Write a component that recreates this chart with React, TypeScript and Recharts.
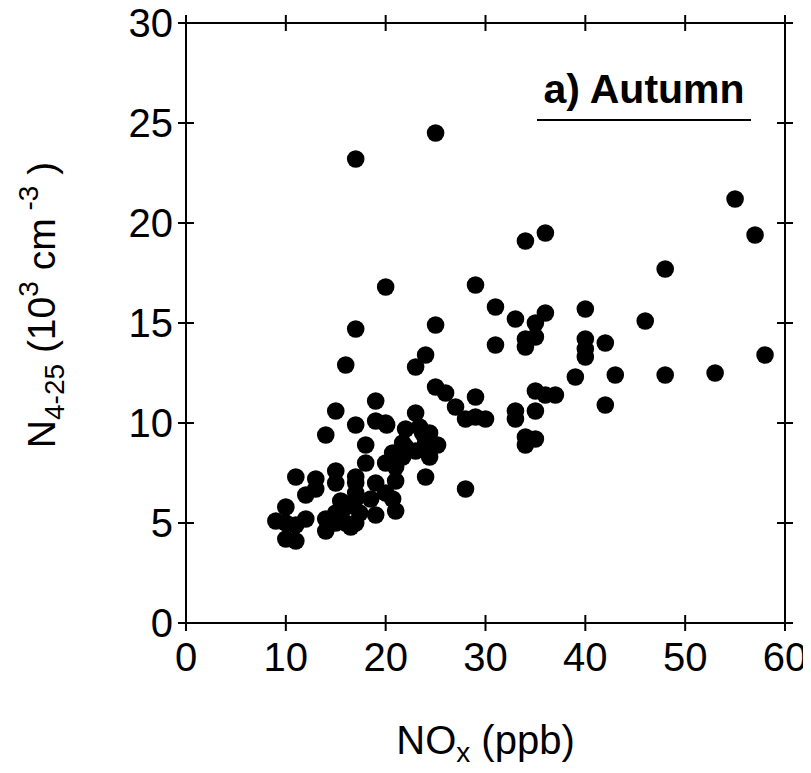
import { ScatterChart, Scatter, XAxis, YAxis } from "recharts";

// NOx (ppb) and N4-25 (10^3 cm^-3)
const noxValues = [
  9, 10, 10, 10, 11, 11, 11, 12, 12, 13, 13, 14, 14, 14, 15, 15, 15, 15, 15, 16,
  16, 15.5, 16, 17, 17, 17, 16.5, 17, 17, 17, 18, 18, 17, 18.5, 19, 19, 19, 19, 20, 20,
  20, 20, 21, 21, 20.7, 21, 20.7, 22, 22, 21.7, 21.7, 23, 23.4, 23, 23, 24.4, 24, 24.4, 24, 24,
  25.2, 25, 25, 25, 26, 27, 28, 28, 29, 29, 29, 30, 31, 31, 33, 33, 33, 34, 34, 34,
  34, 34, 35, 35, 35, 35, 35, 36, 36, 36, 37, 39, 40, 40, 40, 40, 42, 42, 43, 46,
  48, 48, 53, 55, 57, 58, 17, 17.4, 23.7, 20.1,
];
const nValues = [
  5.1, 5.8, 5.0, 4.2, 4.1, 4.9, 7.3, 5.2, 6.4, 6.7, 7.2, 5.2, 4.6, 9.4, 7.6, 7.0, 5.5, 5.0, 10.6, 5.8,
  5.0, 6.1, 12.9, 6.2, 7.0, 6.5, 4.8, 9.9, 14.7, 23.2, 8.9, 8.0, 7.3, 6.2, 11.1, 10.1, 7.0, 5.4, 10.0, 8.0,
  6.5, 16.8, 7.8, 7.1, 6.2, 5.6, 8.5, 9.7, 8.8, 8.3, 9.0, 10.5, 9.8, 8.6, 12.8, 9.5, 9.0, 8.3, 7.3, 13.4,
  8.9, 11.8, 14.9, 24.5, 11.5, 10.8, 10.2, 6.7, 11.3, 10.3, 16.9, 10.2, 15.8, 13.9, 15.2, 10.6, 10.2, 19.1, 14.2, 13.8,
  9.3, 8.9, 15.0, 14.3, 11.6, 10.6, 9.2, 19.5, 15.5, 11.4, 11.4, 12.3, 15.7, 14.2, 13.7, 13.3, 14.0, 10.9, 12.4, 15.1,
  17.7, 12.4, 12.5, 21.2, 19.4, 13.4, 5.0, 5.5, 9.5, 9.9,
];

const xTicks = [0, 10, 20, 30, 40, 50, 60];
const yTicks = [0, 5, 10, 15, 20, 25, 30];

const data = noxValues.map((nox, i) => ({ nox, n: nValues[i] }));

const TICK = 8;
const GAP = 6;
const FONT = "Liberation Sans, Arial, sans-serif";

function BottomTick({ x, y, payload }: any) {
  const axisY = y - TICK - GAP;
  return (
    <g>
      <line x1={x} x2={x} y1={axisY} y2={axisY - TICK} stroke="#000" strokeWidth={2} />
      <text x={x} y={y + 6} dy="0.71em" textAnchor="middle" fontSize={40} fontFamily={FONT} fill="#000">
        {payload.value}
      </text>
    </g>
  );
}

function LeftTick({ x, y, payload }: any) {
  const axisX = x + TICK + GAP;
  return (
    <g>
      <line x1={axisX} x2={axisX + TICK} y1={y} y2={y} stroke="#000" strokeWidth={2} />
      <text x={x + 1} y={y} dy="0.36em" textAnchor="end" fontSize={40} fontFamily={FONT} fill="#000">
        {payload.value}
      </text>
    </g>
  );
}

function TopTick({ x, y }: any) {
  const axisY = y + TICK + GAP;
  return <line x1={x} x2={x} y1={axisY} y2={axisY + TICK} stroke="#000" strokeWidth={2} />;
}

function RightTick({ x, y }: any) {
  const axisX = x - TICK - GAP;
  return <line x1={axisX} x2={axisX - TICK} y1={y} y2={y} stroke="#000" strokeWidth={2} />;
}

function XTitle({ viewBox }: any) {
  const cx = viewBox.x + viewBox.width / 2;
  return (
    <text x={cx} y={viewBox.y + 131} textAnchor="middle" fontSize={40} fontFamily={FONT} fill="#000">
      NO
      <tspan fontSize={28} dy={8}>x</tspan>
      <tspan dy={-8}> (ppb)</tspan>
    </text>
  );
}

function YTitle({ viewBox }: any) {
  const cx = 55;
  const cy = viewBox.y + viewBox.height / 2 - 18;
  return (
    <text
      x={cx}
      y={cy}
      transform={`rotate(-90, ${cx}, ${cy})`}
      textAnchor="middle"
      fontSize={39}
      fontFamily={FONT}
      fill="#000"
    >
      N
      <tspan fontSize={28} dy={9}>4-25</tspan>
      <tspan dy={-9}> (10</tspan>
      <tspan fontSize={28} dy={-17}>3</tspan>
      <tspan dy={17}> cm</tspan>
      <tspan fontSize={28} dy={-17}> -3</tspan>
      <tspan dy={17}> )</tspan>
    </text>
  );
}

const Dot = (props: any) => <circle cx={props.cx} cy={props.cy} r={8.8} fill="#000" />;
const NoDot = () => null;

export default function App() {
  return (
    <div style={{ width: 811, height: 773, margin: "-8px 0 0 -8px", position: "relative", background: "#fff" }}>
      <ScatterChart width={811} height={773} margin={{ top: 22, right: 25, bottom: 10, left: 0 }}>
        <XAxis
          xAxisId="bottom"
          dataKey="nox"
          type="number"
          domain={[0, 60]}
          ticks={xTicks}
          height={140}
          axisLine={{ stroke: "#000", strokeWidth: 2 }}
          tickLine={{ stroke: "#000", strokeWidth: 2 }}
          tickSize={TICK}
          tickMargin={GAP}
          tick={<BottomTick />}
          label={<XTitle />}
        />
        <XAxis
          xAxisId="top"
          orientation="top"
          dataKey="nox"
          type="number"
          domain={[0, 60]}
          ticks={xTicks}
          height={1}
          axisLine={{ stroke: "#000", strokeWidth: 2 }}
          tickLine={{ stroke: "#000", strokeWidth: 2 }}
          tickSize={TICK}
          tickMargin={GAP}
          tick={<TopTick />}
        />
        <YAxis
          yAxisId="left"
          dataKey="n"
          type="number"
          domain={[0, 30]}
          ticks={yTicks}
          width={186}
          axisLine={{ stroke: "#000", strokeWidth: 2 }}
          tickLine={{ stroke: "#000", strokeWidth: 2 }}
          tickSize={TICK}
          tickMargin={GAP}
          tick={<LeftTick />}
          label={<YTitle />}
        />
        <YAxis
          yAxisId="right"
          orientation="right"
          dataKey="n"
          type="number"
          domain={[0, 30]}
          ticks={yTicks}
          width={1}
          axisLine={{ stroke: "#000", strokeWidth: 2 }}
          tickLine={{ stroke: "#000", strokeWidth: 2 }}
          tickSize={TICK}
          tickMargin={GAP}
          tick={<RightTick />}
        />
        <Scatter
          data={data}
          xAxisId="top"
          yAxisId="right"
          shape={<NoDot />}
          isAnimationActive={false}
        />
        <Scatter
          data={data}
          xAxisId="bottom"
          yAxisId="left"
          shape={<Dot />}
          isAnimationActive={false}
        />
      </ScatterChart>
      <div
        style={{
          position: "absolute",
          left: 537,
          top: 67,
          width: 214,
          fontFamily: FONT,
          fontWeight: "bold",
          fontSize: 41,
          lineHeight: "44px",
          textAlign: "center",
          color: "#000",
          borderBottom: "2px solid #000",
          paddingBottom: 8,
          whiteSpace: "nowrap",
        }}
      >
        a) Autumn
      </div>
    </div>
  );
}
